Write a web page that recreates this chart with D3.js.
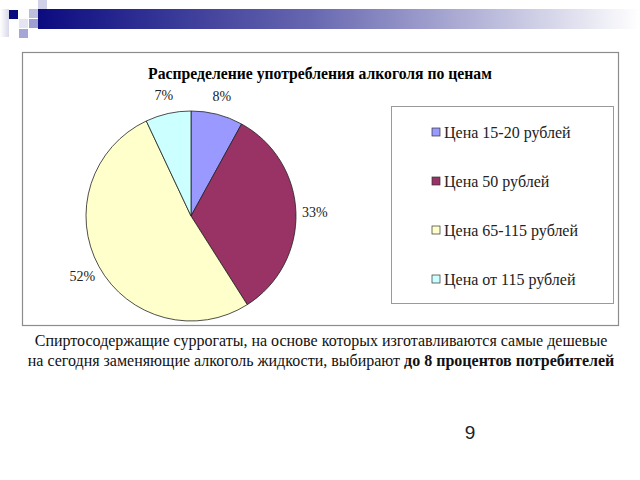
<!DOCTYPE html>
<html>
<head>
<meta charset="utf-8">
<script src="https://cdn.jsdelivr.net/npm/d3@7"></script>
<style>
  body { margin: 0; background: #fff; }
  svg { display: block; }
  .serif { font-family: "Liberation Serif", "Times New Roman", serif; }
</style>
</head>
<body>
<svg id="slide" width="640" height="480"></svg>
<script>
// chart data
var categories = ["Цена 15-20 рублей", "Цена 50 рублей", "Цена 65-115 рублей", "Цена от 115 рублей"];
var shares = [8, 33, 52, 7];
var colors = ["#9999ff", "#993366", "#ffffcc", "#ccffff"];
var title = "Распределение употребления алкоголя по ценам";
var captionLine1 = "Спиртосодержащие суррогаты, на основе которых изготавливаются самые дешевые";
var captionLine2a = "на сегодня заменяющие алкоголь жидкости, выбирают ";
var captionLine2b = "до 8 процентов потребителей";
var pageNum = "9";

var svg = d3.select("#slide");

// header decoration
var defs = svg.append("defs");
var grad = defs.append("linearGradient").attr("id", "bar");
grad.append("stop").attr("offset", "0%").attr("stop-color", "#0b0b80");
grad.append("stop").attr("offset", "45%").attr("stop-color", "#6666b0");
grad.append("stop").attr("offset", "100%").attr("stop-color", "#ffffff");
var side = defs.append("linearGradient").attr("id", "side");
side.append("stop").attr("offset", "0%").attr("stop-color", "#ffffff");
side.append("stop").attr("offset", "100%").attr("stop-color", "#d8d8ea");

svg.append("rect").attr("x", 38).attr("y", 9).attr("width", 602).attr("height", 20).attr("fill", "url(#bar)");
svg.append("rect").attr("x", 0).attr("y", 9).attr("width", 9).attr("height", 28).attr("fill", "url(#side)");
var squares = [
  [9, 10, "#0b0b80"], [38, 0, "#d0d0e8"], [29, 9, "#bdbddc"],
  [19, 19, "#e4e4f2"], [29, 19, "#9e9ed0"], [19, 29, "#a6a6d4"]
];
svg.selectAll("rect.sq").data(squares).enter().append("rect")
  .attr("class", "sq")
  .attr("x", d => d[0]).attr("y", d => d[1])
  .attr("width", 9).attr("height", 9)
  .attr("fill", d => d[2]);

// chart frame
svg.append("rect")
  .attr("x", 22.5).attr("y", 52.5).attr("width", 596).attr("height", 273)
  .attr("fill", "#fff").attr("stroke", "#8c8c8c").attr("stroke-width", 1.2);

svg.append("text")
  .attr("class", "serif")
  .attr("x", 320).attr("y", 79)
  .attr("text-anchor", "middle")
  .style("font-weight", "bold").style("font-size", "15.7px")
  .text(title);

// pie
var cx = 191, cy = 216, r = 105;
var pie = d3.pie().sort(null).value(d => d)(shares);
var arc = d3.arc().innerRadius(0).outerRadius(r);
var labelArc = d3.arc().innerRadius(r + 19).outerRadius(r + 19);

var g = svg.append("g").attr("transform", `translate(${cx},${cy})`);
g.selectAll("path").data(pie).enter().append("path")
  .attr("d", arc)
  .attr("fill", (d, i) => colors[i])
  .attr("stroke", "#222").attr("stroke-width", 0.8);

g.selectAll("text").data(pie).enter().append("text")
  .attr("class", "serif")
  .attr("transform", d => `translate(${labelArc.centroid(d)})`)
  .attr("text-anchor", "middle")
  .attr("dy", "0.35em")
  .style("font-size", "14px").attr("fill", "#222")
  .text(d => d.data + "%");

// legend
svg.append("rect")
  .attr("x", 391.5).attr("y", 106.5).attr("width", 222).attr("height", 197)
  .attr("fill", "#fff").attr("stroke", "#9a9a9a").attr("stroke-width", 1);

var ly = d3.scalePoint().domain(categories).range([132, 279]);
var leg = svg.selectAll("g.leg").data(categories).enter().append("g")
  .attr("class", "leg")
  .attr("transform", d => `translate(432,${ly(d)})`);
leg.append("rect")
  .attr("x", 0).attr("y", -4).attr("width", 8).attr("height", 8)
  .attr("fill", (d, i) => colors[i]).attr("stroke", "#333").attr("stroke-width", 0.7);
leg.append("text")
  .attr("class", "serif")
  .attr("x", 12).attr("dy", "0.35em")
  .style("font-size", "16px").attr("fill", "#222")
  .text(d => d);

// caption
svg.append("text")
  .attr("class", "serif")
  .attr("x", 321).attr("y", 346).attr("text-anchor", "middle")
  .style("font-size", "16px").attr("fill", "#111")
  .text(captionLine1);
var t2 = svg.append("text")
  .attr("class", "serif")
  .attr("x", 321).attr("y", 366).attr("text-anchor", "middle")
  .style("font-size", "16px").attr("fill", "#111");
t2.append("tspan").text(captionLine2a);
t2.append("tspan").style("font-weight", "bold").text(captionLine2b);

svg.append("text")
  .attr("x", 470).attr("y", 439).attr("text-anchor", "middle")
  .style("font-family", "'Liberation Sans', Arial, sans-serif").style("font-size", "19px").attr("fill", "#222")
  .text(pageNum);
</script>
</body>
</html>
